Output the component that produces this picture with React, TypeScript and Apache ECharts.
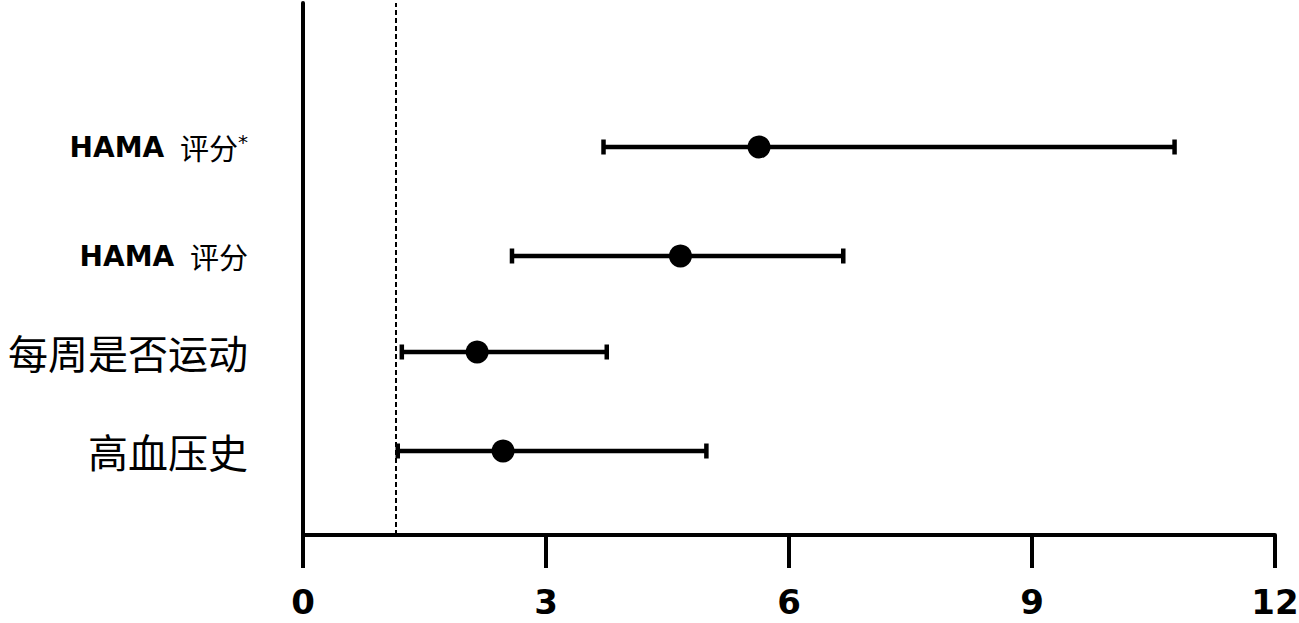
import React, { useEffect, useRef } from "react";
import * as echarts from "echarts";

const labels = ["高血压史", "每周是否运动", "HAMA 评分", "HAMA 评分*"];
const rowPos = [0.84, 1.83, 2.79, 3.88];
const estimate = [2.47, 2.15, 4.66, 5.63];
const lower = [1.17, 1.22, 2.58, 3.71];
const upper = [4.98, 3.75, 6.67, 10.76];
const refLine = 1.14;
const xTicks = [0, 3, 6, 9, 12];

export default function App() {
  const ref = useRef<HTMLDivElement>(null);
  useEffect(() => {
    if (!ref.current) return;
    const chart = echarts.init(ref.current, null, { renderer: "svg" });
    const latin = "DejaVu Sans, Noto Sans CJK SC, sans-serif";
    const cjk = "Noto Sans CJK SC, sans-serif";
    const option: any = {
      animation: false,
      backgroundColor: "#ffffff",
      grid: { left: 303, right: 24, top: 3, bottom: 88, containLabel: false, outerBoundsMode: "none" },
      xAxis: {
        type: "value",
        min: xTicks[0],
        max: xTicks[xTicks.length - 1],
        interval: 3,
        axisLine: { show: true, lineStyle: { color: "#000", width: 4 } },
        axisTick: { show: true, length: 33, lineStyle: { color: "#000", width: 4 } },
        axisLabel: {
          color: "#000",
          fontSize: 34,
          fontWeight: "bold",
          fontFamily: latin,
          margin: 52,
          lineHeight: 30,
          showMaxLabel: true,
          showMinLabel: true,
        },
        splitLine: { show: false },
      },
      yAxis: {
        type: "value",
        min: 0,
        max: 5.32,
        axisLine: { show: true, lineStyle: { color: "#000", width: 4 } },
        axisTick: { show: false },
        splitLine: { show: false },
        axisLabel: {
          customValues: rowPos,
          margin: 55,
          formatter: (v: number) => {
            const i = rowPos.findIndex((p) => Math.abs(p - v) < 1e-6);
            if (i < 0) return "";
            const t = labels[i];
            if (t.startsWith("HAMA")) {
              const parts = t.split(" ");
              const rest = parts.slice(1).join(" ");
              const star = rest.endsWith("*");
              const cn = star ? rest.slice(0, -1) : rest;
              return `{h|${parts[0]} }{hc|${cn}}` + (star ? `{s|*}` : "");
            }
            return `{c|${t}}`;
          },
          rich: {
            h: { fontSize: 28, fontWeight: "bold", fontFamily: latin, color: "#000" },
            hc: { fontSize: 29, fontFamily: cjk, color: "#000", padding: [0, 0, 0, 6] },
            s: { fontSize: 20, fontFamily: latin, color: "#000", verticalAlign: "top", lineHeight: 30 },
            c: { fontSize: 40, fontFamily: cjk, color: "#000" },
          },
        },
      },
      series: [
        {
          type: "custom",
          renderItem: (params: any, api: any) => {
            const lo = api.coord([api.value(0), api.value(2)]);
            const hi = api.coord([api.value(1), api.value(2)]);
            const y = lo[1];
            const capH = 7.5;
            const style = { stroke: "#000", lineWidth: 4.5 };
            return {
              type: "group",
              children: [
                { type: "line", shape: { x1: lo[0], y1: y, x2: hi[0], y2: y }, style },
                { type: "line", shape: { x1: lo[0], y1: y - capH, x2: lo[0], y2: y + capH }, style },
                { type: "line", shape: { x1: hi[0], y1: y - capH, x2: hi[0], y2: y + capH }, style },
              ],
            };
          },
          encode: { x: [0, 1], y: 2 },
          data: rowPos.map((p, i) => [lower[i], upper[i], p]),
          z: 2,
        },
        {
          type: "scatter",
          symbol: "circle",
          symbolSize: 23,
          itemStyle: { color: "#000", opacity: 1 },
          data: rowPos.map((p, i) => [estimate[i], p]),
          z: 3,
          markLine: {
            silent: true,
            symbol: "none",
            label: { show: false },
            lineStyle: { color: "#000", width: 2, type: [5, 3], opacity: 1 },
            data: [{ xAxis: refLine }],
          },
        },
      ],
    };
    chart.setOption(option);
    return () => chart.dispose();
  }, []);
  return (
    <div
      ref={ref}
      style={{ position: "fixed", left: 0, top: 0, width: 1299, height: 623, background: "#fff" }}
    />
  );
}
